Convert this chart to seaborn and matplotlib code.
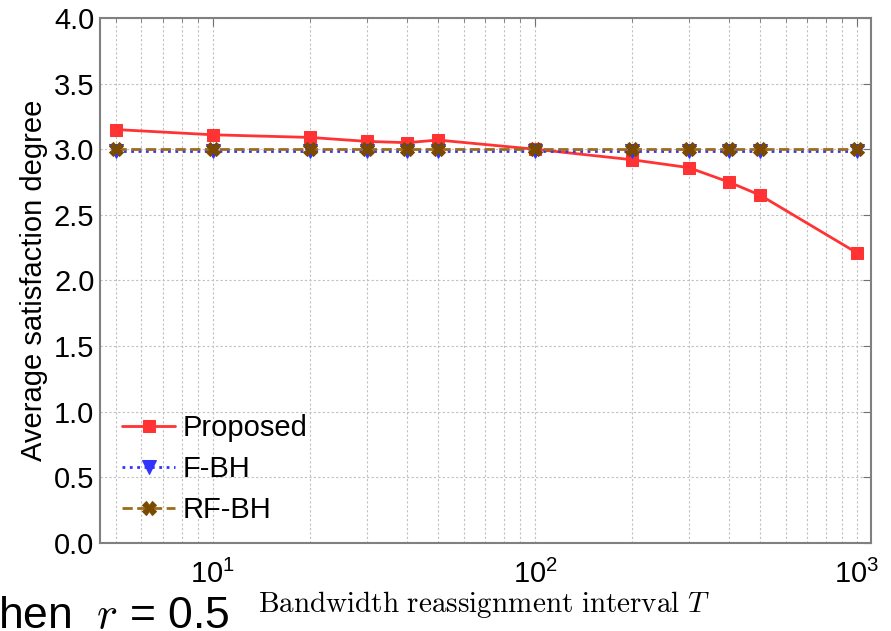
import matplotlib
matplotlib.use("Agg")
import matplotlib.pyplot as plt
import seaborn as sns
import pandas as pd
from matplotlib.ticker import LogLocator, NullFormatter, MultipleLocator

# data
intervals = [5, 10, 20, 30, 40, 50, 100, 200, 300, 400, 500, 1000]
proposed = [3.15, 3.11, 3.09, 3.06, 3.05, 3.07, 3.00, 2.92, 2.86, 2.75, 2.65, 2.21]
f_bh = [2.99, 2.99, 2.99, 2.99, 2.99, 2.99, 2.99, 2.99, 2.99, 2.99, 2.99, 2.99]
rf_bh = [3.00, 3.00, 3.00, 3.00, 3.00, 3.00, 3.00, 3.00, 3.00, 3.00, 3.00, 3.00]

sns.set_style("white")
plt.rcParams['font.family'] = ['Liberation Sans', 'DejaVu Sans']
plt.rcParams['mathtext.fontset'] = 'cm'
plt.rcParams['text.color'] = 'black'
plt.rcParams['axes.labelcolor'] = 'black'
plt.rcParams['xtick.color'] = 'black'
plt.rcParams['ytick.color'] = 'black'

fig = plt.figure(figsize=(8.91, 6.31), dpi=100)
ax = fig.add_axes([0.1122, 0.1395, 0.8654, 0.832])

styles = [
    ("Proposed", proposed, "#ff3333", "s", "-", 9),
    ("F-BH", f_bh, "#3333ff", "v", ":", 10),
    ("RF-BH", rf_bh, "#7a4a00", "X", "--", 10),
]
for name, vals, col, mk, ls, ms in styles:
    df = pd.DataFrame({"T": intervals, "v": vals})
    sns.lineplot(data=df, x="T", y="v", ax=ax, color=col, marker=mk, linestyle=ls,
                 linewidth=2, markersize=ms, markeredgecolor=col, label=name)

ax.lines[2].set_color("#9c6c1c")
ax.lines[2].set_markerfacecolor("#7a4a00")
ax.lines[2].set_markeredgecolor("#7a4a00")

ax.set_xscale("log")
ax.set_xlim(4.46, 1105)
ax.set_ylim(0, 4.0)
ax.yaxis.set_major_locator(MultipleLocator(0.5))
ax.xaxis.set_minor_locator(LogLocator(base=10, subs=range(2, 10)))
ax.xaxis.set_minor_formatter(NullFormatter())

ax.grid(True, which="both", color="#c0c0c0", linestyle=(0, (2, 2)), linewidth=0.8)
ax.tick_params(which="both", direction="in", top=True, right=True, color="#707070")
ax.tick_params(which="major", length=6, labelsize=21, pad=4)
ax.tick_params(axis="x", which="major", pad=12)
ax.tick_params(which="minor", length=3)
for s in ax.spines.values():
    s.set_color("#808080")
    s.set_linewidth(1.5)

ax.set_ylabel("Average satisfaction degree", fontsize=21, labelpad=4)
ax.set_xlabel(r"$\mathrm{Bandwidth\ reassignment\ interval}\ T$", fontsize=21)
ax.xaxis.set_label_coords(0.498, -0.088)

leg = ax.legend(loc="lower left", bbox_to_anchor=(-0.005, -0.014), frameon=False, fontsize=21,
                handlelength=1.8, handletextpad=0.25, labelspacing=0.45)

# leftover caption cut from the slide, sits at the bottom-left corner
fig.text(0.258, 0.005, r"hen  $r$ = 0.5", fontsize=32, ha="right", va="baseline",
         family="Liberation Sans")

fig.savefig("out.png", dpi=100)
